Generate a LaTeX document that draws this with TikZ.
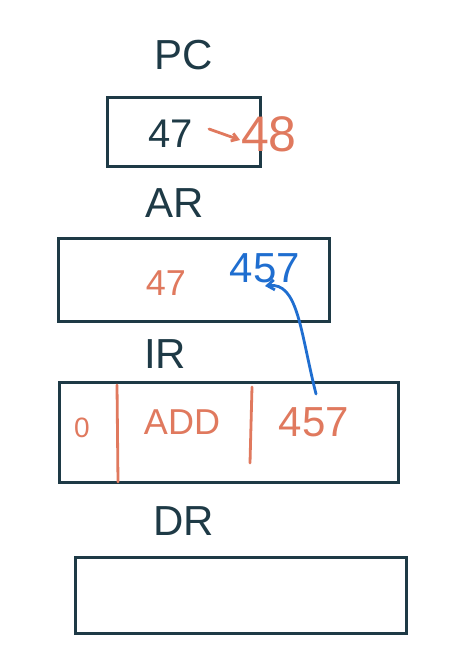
\documentclass[tikz,border=0pt]{standalone}
\usepackage{fontspec}
\setmainfont{Liberation Sans}
\usetikzlibrary{arrows.meta}
\definecolor{ink}{HTML}{1E3A46}
\definecolor{redink}{HTML}{E0795E}
\definecolor{blueink}{HTML}{1F6ED0}
\begin{document}
\begin{tikzpicture}[x=1pt,y=-1pt,
  reg/.style={draw=ink,line width=3pt,inner sep=0pt,anchor=north west},
  lbl/.style={text=ink,font=\fontsize{42}{42}\selectfont,inner sep=0pt},
  redtxt/.style={text=redink,inner sep=0pt},
  bluetxt/.style={text=blueink,inner sep=0pt},
  darktxt/.style={text=ink,inner sep=0pt},
  redline/.style={draw=redink,line width=2.8pt,line cap=round},
  blueline/.style={draw=blueink,line width=2.8pt,line cap=round}]
\useasboundingbox (0,0) rectangle (460,660);
\fill[white] (0,0) rectangle (460,660);
% registers
\node[reg,minimum width=153pt,minimum height=69pt] (pc) at (106,96) {};
\node[reg,minimum width=271pt,minimum height=83pt] (ar) at (57,237) {};
\node[reg,minimum width=339pt,minimum height=100pt] (ir) at (58,381) {};
\node[reg,minimum width=331pt,minimum height=76pt] (dr) at (74,556) {};
% labels
\node[lbl] (pclbl) at (184,55) {PC};
\node[lbl] (arlbl) at (175,203) {AR};
\node[lbl] (irlbl) at (165,354) {IR};
\node[lbl] (drlbl) at (184,521) {DR};
% PC contents
\node[darktxt,font=\fontsize{40}{40}\selectfont] (pcval) at (171,134) {47};
\node[redtxt,font=\fontsize{50}{50}\selectfont] (pcnew) at (269,134) {48};
\draw[redline,-{Straight Barb[length=6pt,width=8pt]}] (209,129) -- ([xshift=-1pt,yshift=-6pt]pcnew.west);
% AR contents
\node[redtxt,font=\fontsize{36}{36}\selectfont] (arval) at (166,283) {47};
\node[bluetxt,font=\fontsize{42}{42}\selectfont] (arnew) at (265,268) {457};
% IR contents
\node[redtxt,font=\fontsize{28}{28}\selectfont] (irmode) at (82,428) {0};
\node[redtxt,font=\fontsize{36}{36}\selectfont] (irop) at (182,422) {ADD};
\node[redtxt,font=\fontsize{42}{42}\selectfont] (iraddr) at (314,422) {457};
\draw[redline] (117,385) -- (118,482);
\draw[redline] (252,387) -- (250,463);
% blue arrow from IR address to AR
\coordinate (bstart) at (316,394);
\draw[blueline,-{Straight Barb[length=7pt,width=10pt]}] (bstart) .. controls (300,330) and (298,282) .. (265,286);
\end{tikzpicture}
\end{document}
